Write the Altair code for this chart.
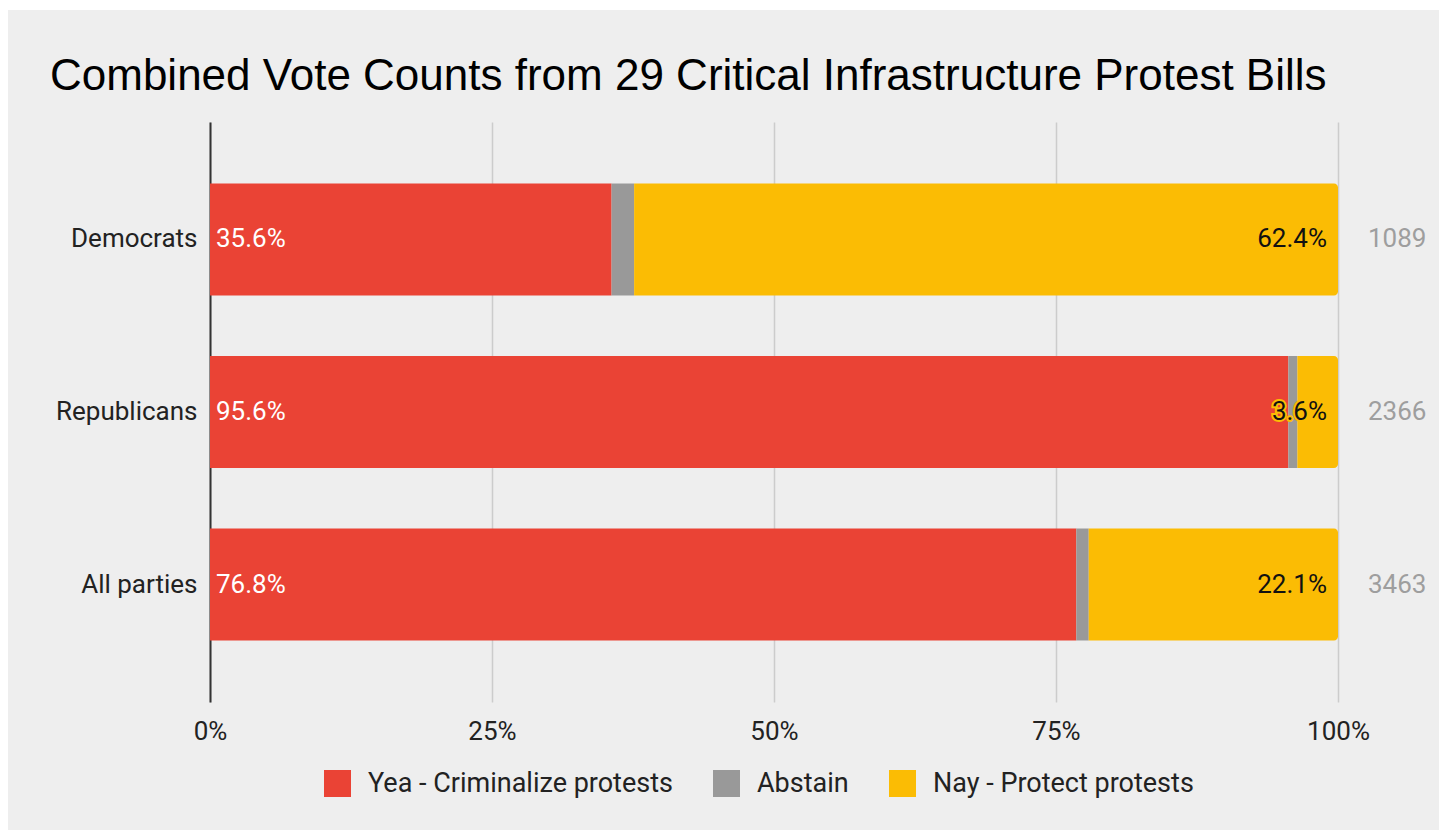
import altair as alt
import pandas as pd

title_text = "Combined Vote Counts from 29 Critical Infrastructure Protest Bills"
parties = ["Democrats", "Republicans", "All parties"]
yea_pct = [35.6, 95.6, 76.8]
abstain_pct = [2.0, 0.8, 1.1]
nay_pct = [62.4, 3.6, 22.1]
totals = [1089, 2366, 3463]
categories = ["Yea - Criminalize protests", "Abstain", "Nay - Protect protests"]
colors = ["#ea4335", "#999999", "#fbbc04"]

rows = []
for p, y, a, n in zip(parties, yea_pct, abstain_pct, nay_pct):
    s = 0.0
    for cat, v in zip(categories, [y, a, n]):
        rows.append({"party": p, "category": cat, "start": s / 100, "end": (s + v) / 100, "pct": v})
        s += v
seg = pd.DataFrame(rows)
lab = pd.DataFrame({
    "party": parties,
    "yea": [f"{v:.1f}%" for v in yea_pct],
    "nay": [f"{v:.1f}%" for v in nay_pct],
    "total": [str(t) for t in totals],
    "zero": [0.0] * 3,
    "one": [1.0] * 3,
})

W, H = 1128, 580
FONT = "Roboto"
FS = 26

yscale = alt.Scale(domain=parties, paddingInner=0.35, paddingOuter=0.356)
xscale = alt.Scale(domain=[0, 1], nice=False)

one = pd.DataFrame({"t": [title_text]})
border_left = alt.Chart(one).mark_rect(color="#ffffff").encode(
    x=alt.value(-212), x2=alt.value(-202), y=alt.value(-130), y2=alt.value(H + 140))
border_top = alt.Chart(one).mark_rect(color="#ffffff").encode(
    x=alt.value(-212), x2=alt.value(W + 110), y=alt.value(-130), y2=alt.value(-112))
title = alt.Chart(one).mark_text(align="left", baseline="alphabetic", fontSize=44,
                                 font="Liberation Sans", color="#000000").encode(
    x=alt.value(-160), y=alt.value(-32), text="t:N")

bars_main = alt.Chart(seg).transform_filter(
    alt.datum.category != categories[2]
).mark_bar().encode(
    y=alt.Y("party:N", scale=yscale, sort=parties,
            axis=alt.Axis(title=None, domain=True, domainColor="#333333", domainWidth=2,
                          ticks=False, labelFontSize=FS, labelColor="#222222", labelPadding=13,
                          labelFont=FONT)),
    x=alt.X("start:Q", scale=xscale,
            axis=alt.Axis(title=None, format="%", values=[0, 0.25, 0.5, 0.75, 1],
                          grid=True, gridColor="#cccccc", gridWidth=1.5, domain=False, ticks=False,
                          labelFlush=False,
                          labelFontSize=FS, labelColor="#222222", labelPadding=16, labelFont=FONT)),
    x2="end:Q",
    color=alt.Color("category:N", scale=alt.Scale(domain=categories, range=colors),
                    legend=alt.Legend(title=None, orient="none", direction="horizontal",
                                      legendX=114, legendY=648, symbolType="square",
                                      symbolSize=729, symbolStrokeWidth=0, labelFontSize=27,
                                      labelFont=FONT, labelColor="#222222", columnPadding=40,
                                      labelOffset=17, labelLimit=400)),
)

bars_nay = alt.Chart(seg).transform_filter(
    alt.datum.category == categories[2]
).mark_bar(cornerRadiusTopRight=4, cornerRadiusBottomRight=4).encode(
    y=alt.Y("party:N", scale=yscale, sort=parties),
    x=alt.X("start:Q", scale=xscale),
    x2="end:Q",
    color=alt.Color("category:N", scale=alt.Scale(domain=categories, range=colors)),
)

yea_text = alt.Chart(lab).mark_text(align="left", baseline="middle", dx=6, fontSize=FS,
                                    font=FONT, color="#ffffff").encode(
    y=alt.Y("party:N", scale=yscale, sort=parties), x=alt.X("zero:Q", scale=xscale), text="yea:N")

nay_halo = alt.Chart(lab).mark_text(align="right", baseline="middle", dx=-11, fontSize=FS,
                                    font=FONT, color="#fbbc04", stroke="#fbbc04", strokeWidth=4).encode(
    y=alt.Y("party:N", scale=yscale, sort=parties), x=alt.X("one:Q", scale=xscale), text="nay:N")

nay_text = alt.Chart(lab).mark_text(align="right", baseline="middle", dx=-11, fontSize=FS,
                                    font=FONT, color="#111111").encode(
    y=alt.Y("party:N", scale=yscale, sort=parties), x=alt.X("one:Q", scale=xscale), text="nay:N")

tot_text = alt.Chart(lab).mark_text(align="left", baseline="middle", fontSize=FS,
                                    font=FONT, color="#9e9e9e").encode(
    y=alt.Y("party:N", scale=yscale, sort=parties), x=alt.value(W + 30), text="total:N")

chart = alt.layer(border_left, border_top, title, bars_main, bars_nay, yea_text, nay_halo,
                  nay_text, tot_text).properties(
    width=W, height=H,
    autosize=alt.AutoSizeParams(type="none"),
    padding={"left": 210, "top": 122, "right": 101, "bottom": 128},
    background="#eeeeee",
).configure_view(stroke=None)

chart.save("out.html", embed_options={"renderer": "svg", "actions": False})
